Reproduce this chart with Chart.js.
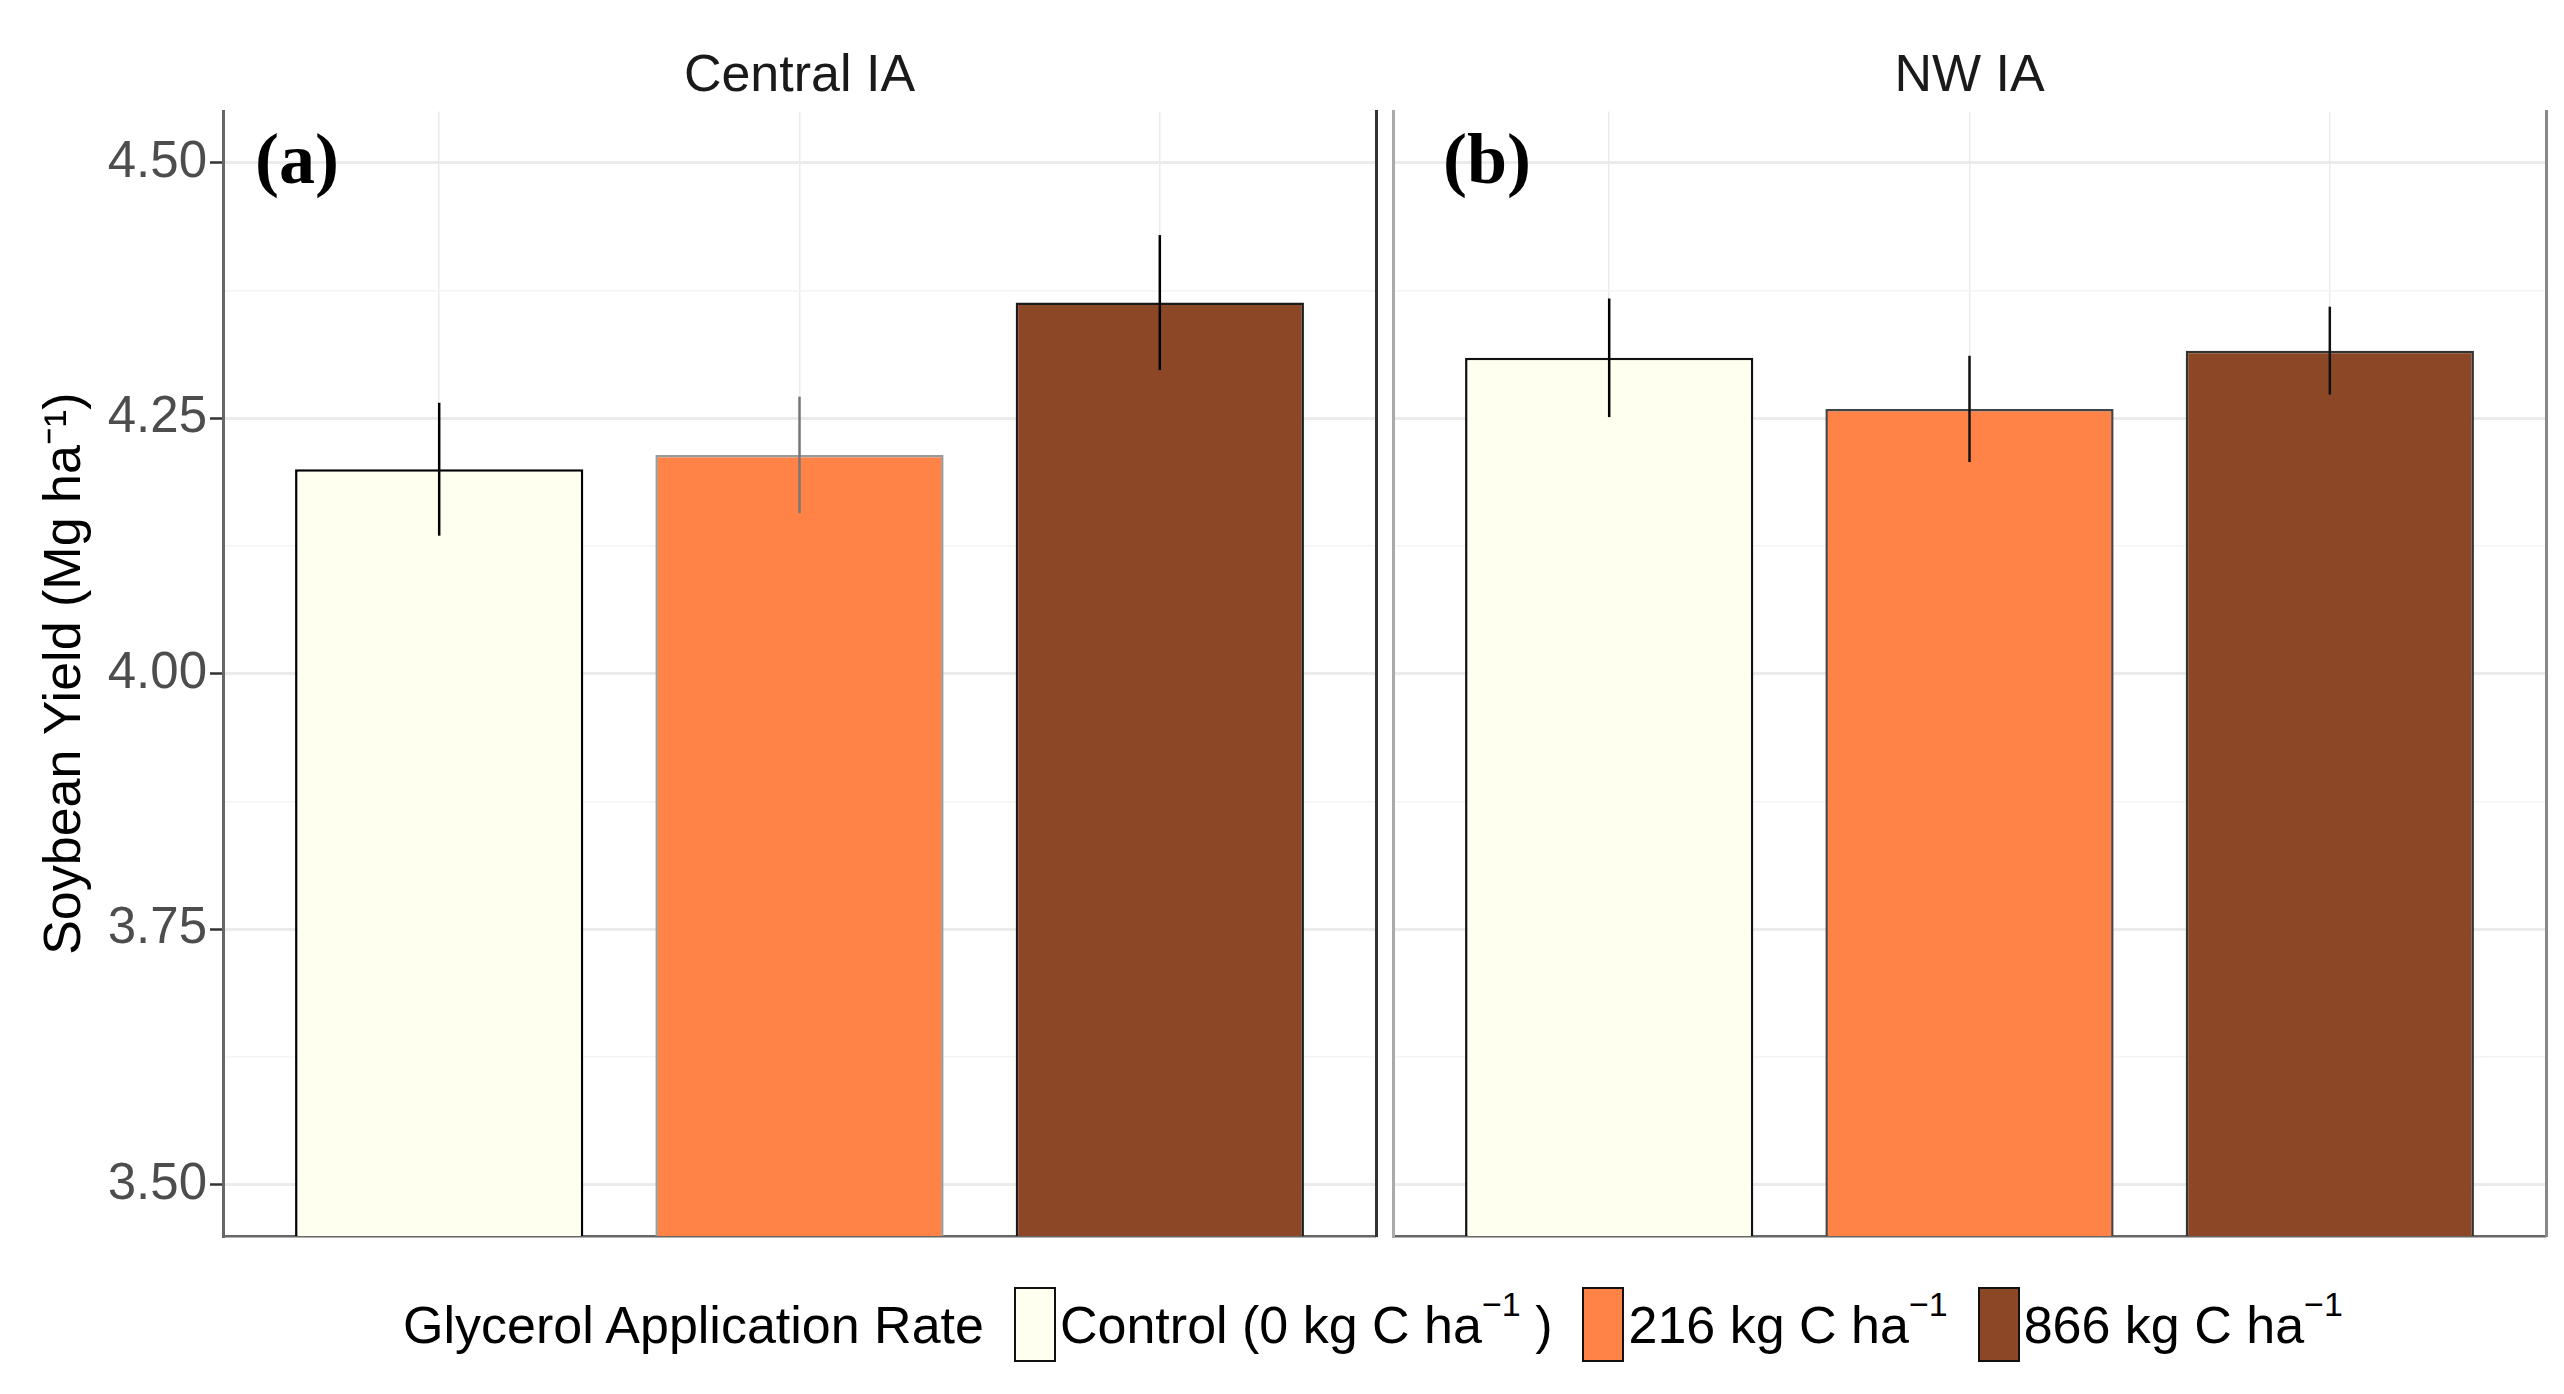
<!DOCTYPE html>
<html>
<head>
<meta charset="utf-8">
<script src="https://cdn.jsdelivr.net/npm/chart.js@4.4.1/dist/chart.umd.min.js"></script>
<style>
body{margin:0;background:#fff;width:2564px;height:1394px;overflow:hidden;position:relative;font-family:"Liberation Sans",Arial,sans-serif;}
canvas{position:absolute;top:0;}
#central{left:0;}
#nw{left:1385px;}
#legend{position:absolute;left:403px;top:1287px;height:75px;display:flex;align-items:center;font-size:52px;color:#000;white-space:nowrap;}
#legend .key{box-sizing:border-box;width:42px;height:75px;border:2.5px solid #111;margin:0 4px 0 30px;}
#legend sup{font-size:34px;line-height:0;position:relative;top:-8px;}
</style>
</head>
<body>
<canvas id="central" width="1385" height="1240"></canvas>
<canvas id="nw" width="1179" height="1240"></canvas>
<div id="legend"></div>
<script>
window.addEventListener("load", () => {

/* ========= DATA ========= */

const treatments = ["Control (0 kg C ha", "216 kg C ha", "866 kg C ha"];
const treatmentTail = [" )", "", ""];
const sites = ["Central IA", "NW IA"];
const panelTags = ["(a)", "(b)"];

const centralYield = [4.200, 4.214, 4.363];
const centralSE = [0.065, 0.057, 0.066];
const nwYield = [4.309, 4.259, 4.316];
const nwSE = [0.058, 0.052, 0.043];

const yTicks = [3.50, 3.75, 4.00, 4.25, 4.50];

const barColors = ["#FFFFF0", "#FF8247", "#8B4726"];

Chart.defaults.font.family = '"Liberation Sans", Arial, sans-serif';

/* ========= PLUGINS ========= */

const errorBars = {
id: "errorBars",
afterDatasetsDraw(chart, args, opts){
const {ctx, scales:{x, y}} = chart;
const ds = chart.data.datasets[0];
ctx.save();
ctx.lineWidth = 2.5;
ds.data.forEach((p, i) => {
const px = x.getPixelForValue(p.x);
ctx.strokeStyle = opts.colors[i];
ctx.beginPath();
ctx.moveTo(px, y.getPixelForValue(p.y - ds.errors[i]));
ctx.lineTo(px, y.getPixelForValue(p.y + ds.errors[i]));
ctx.stroke();
});
ctx.restore();
}
};

const panelTag = {
id: "panelTag",
afterDraw(chart, args, opts){
const {ctx, chartArea} = chart;
ctx.save();
ctx.font = 'bold 72px "Liberation Serif", "Times New Roman", serif';
ctx.fillStyle = "#000";
ctx.textBaseline = "alphabetic";
ctx.fillText(opts.text, chartArea.left + opts.dx, chartArea.top + 72);
ctx.restore();
}
};

const isMajor = c => c.tick && yTicks.includes(c.tick.value);

/* ========= PANEL CREATOR ========= */

function makePanel(id, site, tag, means, se, st){

return new Chart(document.getElementById(id), {
type: "bar",
data: {
datasets: [{
data: means.map((v, i) => ({x: i, y: v})),
errors: se,
backgroundColor: barColors,
borderColor: st.barBorder,
borderWidth: 2.5,
borderSkipped: "start",
categoryPercentage: 1,
barPercentage: 0.8
}]
},
options: {
responsive: false,
animation: false,
layout: {padding: {left: 0, right: st.padRight, top: 0, bottom: 4}},
plugins: {
legend: {display: false},
tooltip: {enabled: false},
title: {
display: true, text: site, fullSize: false,
color: "#1A1A1A", font: {size: 52, weight: "normal"},
padding: {top: 45, bottom: 4}
},
errorBars: {colors: st.errColor},
panelTag: {text: tag, dx: st.tagX}
},
scales: {
x: {
type: "linear", min: -0.6, max: 2.6, offset: false,
afterBuildTicks: s => { s.ticks = treatments.map((t, i) => ({value: i})); },
ticks: {display: false},
grid: {color: "#EBEBEB", lineWidth: 1.5, drawTicks: false, offset: false},
border: {color: "#666", width: 2.5}
},
y: {
type: "linear", min: 3.45, max: 4.55, bounds: "data",
afterBuildTicks: s => {
const t = [];
yTicks.forEach((v, i) => {
t.push({value: v});
if (i < yTicks.length - 1) t.push({value: (v + yTicks[i + 1]) / 2});
});
s.ticks = t;
},
afterFit: s => { s.width = st.axisWidth; s.paddingTop = 0; s.paddingBottom = 0; },
ticks: {
display: st.showY, autoSkip: false, padding: 3,
color: "#4D4D4D", font: {size: 51},
callback: v => yTicks.includes(v) ? v.toFixed(2) : ""
},
grid: {
color: c => isMajor(c) ? "#EBEBEB" : "#F4F4F4",
lineWidth: c => isMajor(c) ? 3 : 1.5,
drawTicks: st.showY, tickLength: 13, tickWidth: 2.5,
tickColor: c => isMajor(c) ? "#333" : "rgba(0,0,0,0)"
},
border: {color: st.leftBorder, width: 3},
title: {
display: st.showY, text: "Soybean Yield (Mg ha⁻¹)",
color: "#000", font: {size: 52}, padding: {top: 34, bottom: 0}
}
},
yR: {
type: "linear", position: "right",
ticks: {display: false},
grid: {display: false, drawTicks: false},
border: {color: st.rightBorder, width: 3}
}
}
},
plugins: [errorBars, panelTag]
});
}

/* ========= CREATE PANELS ========= */

makePanel("central", sites[0], panelTags[0], centralYield, centralSE, {
showY: true, axisWidth: 223, padRight: 9, tagX: 32,
barBorder: ["#000", "#9A9A9A", "#1A1A1A"],
errColor: ["#000", "#777", "#000"],
leftBorder: "#666", rightBorder: "#333"
});

makePanel("nw", sites[1], panelTags[1], nwYield, nwSE, {
showY: false, axisWidth: 8, padRight: 18, tagX: 50,
barBorder: ["#111", "#444", "#333"],
errColor: ["#000", "#111", "#111"],
leftBorder: "#AAA", rightBorder: "#888"
});

/* ========= LEGEND ========= */

const legend = document.getElementById("legend");
const head = document.createElement("span");
head.textContent = "Glycerol Application Rate";
legend.appendChild(head);
treatments.forEach((t, i) => {
const key = document.createElement("span");
key.className = "key";
key.style.background = barColors[i];
legend.appendChild(key);
const lab = document.createElement("span");
lab.innerHTML = t + "<sup>−1</sup>" + treatmentTail[i].replace(" ", "&nbsp;");
legend.appendChild(lab);
});

});
</script>
</body>
</html>
